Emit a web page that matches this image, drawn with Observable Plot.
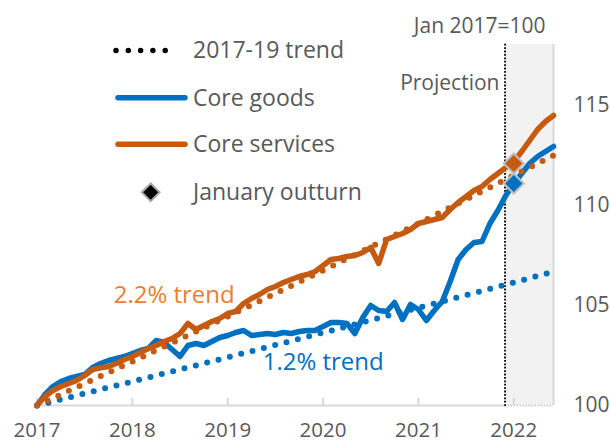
<!DOCTYPE html>
<html>
<head>
<meta charset="utf-8">
<script src="https://cdn.jsdelivr.net/npm/d3@7"></script>
<script src="https://cdn.jsdelivr.net/npm/@observablehq/plot@0.6"></script>
<style>
  html, body { margin: 0; padding: 0; background: #fff; }
  #wrap { position: relative; width: 610px; height: 443px; overflow: hidden; font-family: "Open Sans", sans-serif; }
  #wrap > svg { position: absolute; left: 0; top: 0; }
</style>
</head>
<body>
<div id="wrap"></div>
<script>
// ---- Data (monthly, Jan 2017 = index 0 ... Jun 2022 = index 65), Jan 2017 = 100 ----
const yearLabels = ["2017", "2018", "2019", "2020", "2021", "2022"];
const yearTickMonths = [0, 12, 24, 36, 48, 60];
const yTicks = [100, 105, 110, 115];

const coreGoods = [
  100.0, 100.55, 100.95, 101.2, 101.35, 101.45, 101.55, 101.9, 102.1, 102.25, 102.35, 102.45,
  102.6, 102.75, 102.85, 103.25, 103.15, 102.8, 102.45, 103.0, 103.1, 103.0, 103.2, 103.4,
  103.5, 103.65, 103.75, 103.5, 103.55, 103.6, 103.55, 103.65, 103.6, 103.7, 103.75, 103.75,
  103.95, 104.15, 104.15, 104.1, 103.6, 104.4, 105.0, 104.75, 104.7, 105.15, 104.3, 105.05,
  104.8, 104.25, 104.75, 105.2, 106.2, 107.3, 107.8, 108.15, 108.2, 109.1, 109.75, 110.5,
  111.1, 111.6, 112.1, 112.45, 112.7, 112.95
];
const coreServices = [
  100.0, 100.45, 100.75, 100.95, 101.1, 101.25, 101.5, 101.8, 101.88, 101.95, 102.1, 102.3,
  102.45, 102.65, 102.85, 103.0, 103.2, 103.35, 103.6, 104.1, 103.8, 104.0, 104.2, 104.35,
  104.6, 104.7, 105.1, 105.35, 105.55, 105.8, 105.95, 106.15, 106.3, 106.45, 106.55, 106.7,
  107.0, 107.3, 107.35, 107.45, 107.5, 107.65, 107.9, 107.1, 108.3, 108.45, 108.6, 108.8,
  109.1, 109.2, 109.3, 109.4, 109.8, 110.15, 110.45, 110.75, 110.95, 111.3, 111.6, 111.9,
  112.2, 112.7, 113.25, 113.8, 114.2, 114.5
];

// 2017-19 trends (1.2% goods, 2.2% services), values read at yearly points
const trendMonths   = [0, 12, 24, 36, 48, 60, 65];
const goodsTrend    = [100, 101.2, 102.41, 103.64, 104.89, 106.15, 106.7];
const servicesTrend = [100, 102.2, 104.45, 106.75, 109.1, 111.5, 112.5];

// January 2022 outturn
const outturnMonth = 60;
const outturnGoods = 111.1;
const outturnServices = 112.1;

// Projection period
const projectionStart = 58.9;
const lastMonth = 65;

// ---- Styling ----
const BLUE = "#0070C0";
const ORANGE = "#C55A11";
const ORANGE_TEXT = "#ED7D31";
const GREY_TEXT = "#595959";
const AXIS_GREY = "#D9D9D9";

const goodsData = coreGoods.map((v, i) => ({ m: i, v }));
const servicesData = coreServices.map((v, i) => ({ m: i, v }));
const goodsTrendData = trendMonths.map((m, i) => ({ m, v: goodsTrend[i] }));
const servicesTrendData = trendMonths.map((m, i) => ({ m, v: servicesTrend[i] }));

const chart = Plot.plot({
  width: 610,
  height: 443,
  marginLeft: 36.5,
  marginRight: 57,
  marginTop: 45,
  marginBottom: 38,
  style: { fontFamily: "Open Sans, sans-serif", fontSize: "21px", color: GREY_TEXT, background: "transparent", overflow: "visible" },
  x: { domain: [0, lastMonth], axis: null },
  y: { domain: [100, 118], axis: null },
  marks: [
    // projection shading
    Plot.rect([{ x1: projectionStart, x2: lastMonth, y1: 100, y2: 118.05 }], { x1: "x1", x2: "x2", y1: "y1", y2: "y2", fill: "#F2F2F2" }),
    Plot.ruleX([lastMonth], { y1: 100, y2: 118.05, stroke: AXIS_GREY, strokeWidth: 2 }),
    // baseline and year ticks
    Plot.ruleY([100], { x1: 0, x2: projectionStart, stroke: AXIS_GREY, strokeWidth: 2 }),
    Plot.ruleY([100], { x1: projectionStart, x2: lastMonth, stroke: "#BFBFBF", strokeWidth: 1.5, strokeDasharray: "1.5,1.5" }),
    Plot.ruleX(yearTickMonths, { y1: 100, y2: 100.35, stroke: AXIS_GREY, strokeWidth: 2 }),
    // projection divider
    Plot.ruleX([projectionStart], { y1: 99.95, y2: 118.1, stroke: "#000", strokeWidth: 1.8, strokeDasharray: "1.8,1.6" }),
    // axes
    Plot.axisX(yearTickMonths, { tickSize: 0, tickPadding: 17, fontSize: 20.5, tickFormat: d => yearLabels[yearTickMonths.indexOf(d)] }),
    Plot.axisY(yTicks, { anchor: "right", tickSize: 0, tickPadding: 20, fontSize: 21 }),
    // series
    Plot.line(goodsData, { x: "m", y: "v", stroke: BLUE, strokeWidth: 5.5, strokeLinejoin: "round", strokeLinecap: "round" }),
    Plot.line(servicesData, { x: "m", y: "v", stroke: ORANGE, strokeWidth: 5.5, strokeLinejoin: "round", strokeLinecap: "round" }),
    // trends
    Plot.line(goodsTrendData, { x: "m", y: "v", stroke: BLUE, strokeWidth: 6, strokeDasharray: "0,11.7", strokeLinecap: "round" }),
    Plot.line(servicesTrendData, { x: "m", y: "v", stroke: ORANGE, strokeWidth: 6, strokeDasharray: "0,11.7", strokeLinecap: "round" }),
    // January outturn
    Plot.dot([{ m: outturnMonth, v: outturnServices }], { x: "m", y: "v", symbol: "diamond2", r: 9, fill: ORANGE, stroke: "#BFBFBF", strokeWidth: 2 }),
    Plot.dot([{ m: outturnMonth, v: outturnGoods }], { x: "m", y: "v", symbol: "diamond2", r: 9, fill: BLUE, stroke: "#BFBFBF", strokeWidth: 2 }),
    // annotations
    Plot.text(["2.2% trend"], { x: 9.65, y: 105.5, text: d => d, textAnchor: "start", lineAnchor: "middle", fill: ORANGE_TEXT, fontSize: 24 }),
    Plot.text(["1.2% trend"], { x: 28.4, y: 102.15, text: d => d, textAnchor: "start", lineAnchor: "middle", fill: BLUE, fontSize: 24 }),
    Plot.text(["Projection"], { x: 58.2, y: 116.1, text: d => d, textAnchor: "end", lineAnchor: "middle", fill: GREY_TEXT, fontSize: 21 }),
    Plot.text(["Jan 2017=100"], { x: 64, y: 118.95, text: d => d, textAnchor: "end", lineAnchor: "middle", fill: GREY_TEXT, fontSize: 21 })
  ]
});
document.getElementById("wrap").appendChild(chart);

// ---- Legend overlay ----
const legendItems = [
  { label: "2017-19 trend", kind: "dots", color: "#000" },
  { label: "Core goods", kind: "line", color: BLUE },
  { label: "Core services", kind: "line", color: ORANGE },
  { label: "January outturn", kind: "diamond", color: "#000" }
];
const leg = d3.select("#wrap").append("svg")
  .attr("width", 610).attr("height", 443)
  .style("pointer-events", "none")
  .attr("font-family", "Open Sans, sans-serif");
const rowY = [50.5, 97.7, 144.3, 192.3];
legendItems.forEach((item, i) => {
  const y = rowY[i];
  if (item.kind === "dots") {
    leg.append("line").attr("x1", 116).attr("x2", 177.5).attr("y1", y).attr("y2", y)
      .attr("stroke", item.color).attr("stroke-width", 5.5).attr("stroke-linecap", "round")
      .attr("stroke-dasharray", "0,12.3");
  } else if (item.kind === "line") {
    leg.append("line").attr("x1", 118).attr("x2", 185).attr("y1", y).attr("y2", y)
      .attr("stroke", item.color).attr("stroke-width", 5.5).attr("stroke-linecap", "round");
  } else {
    leg.append("path").attr("transform", `translate(150.7,${y})`)
      .attr("d", d3.symbol(d3.symbolDiamond2, Math.PI * 8 * 8)())
      .attr("fill", item.color).attr("stroke", "#A6A6A6").attr("stroke-width", 2);
  }
  leg.append("text").attr("x", 193).attr("y", y + 7.8)
    .attr("fill", GREY_TEXT).attr("font-size", 23).text(item.label);
});
</script>
</body>
</html>
